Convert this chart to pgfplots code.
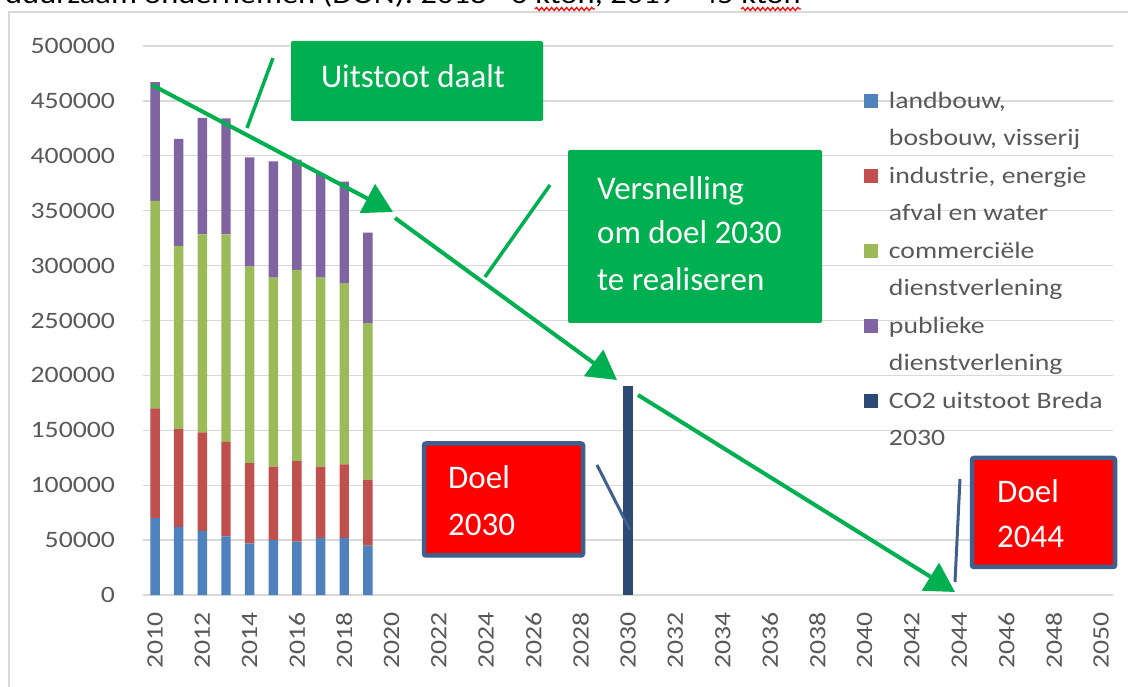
\documentclass[border=0pt]{standalone}
\usepackage{pgfplots}
\pgfplotsset{compat=1.18}
\usepackage{pgfplotstable}
\usetikzlibrary{arrows.meta,decorations.pathmorphing}
\usepackage{fontspec}
\setmainfont{Carlito}
\newfontfamily\chartfont[FakeStretch=1.18]{Carlito}
\newfontfamily\boxfont{Carlito}
\definecolor{cBlue}{HTML}{4F81BD}
\definecolor{cRed}{HTML}{C0504D}
\definecolor{cGreen}{HTML}{9BBB59}
\definecolor{cPurple}{HTML}{8064A2}
\definecolor{cNavy}{HTML}{2C4A74}
\definecolor{gridc}{HTML}{D9D9D9}
\definecolor{txt}{HTML}{595959}
\definecolor{boxgreen}{HTML}{00B050}
\definecolor{boxred}{HTML}{FF0000}
\definecolor{boxborder}{HTML}{3F5F8C}
\pgfplotsset{sqlegend/.style={legend image code/.code={\fill[##1] (0pt,0pt) rectangle (14pt,14pt);}}}
\pgfplotstableread{
year blue red green purple co2
2010 70000 100000 189000 108000 0
2011 62000 89000 167000 97500 0
2012 58500 89500 180500 106000 0
2013 53500 86000 189000 105500 0
2014 47000 73000 179000 99500 0
2015 50000 67000 172000 106000 0
2016 48500 73500 174000 100500 0
2017 52000 65000 172000 94500 0
2018 52000 67000 164500 93000 0
2019 45000 60000 142500 82500 0
2030 0 0 0 0 190000
}\data
\begin{document}
\begin{tikzpicture}
\path[use as bounding box] (0pt,0pt) rectangle (1128pt,686pt);
\clip (0pt,0pt) rectangle (1128pt,686pt);
\fill[white] (0pt,0pt) rectangle (1128pt,686pt);
\begin{axis}[
  at={(143.2pt,91pt)}, anchor=south west,
  scale only axis, width=969.8pt, height=549pt,
  ybar stacked, bar width=0.4,
  xmin=2009.5, xmax=2050.5, ymin=0, ymax=500000,
  xtick={2010,2012,...,2050},
  ytick={0,50000,...,500000},
  scaled y ticks=false,
  ymajorgrids, grid style={gridc, line width=1.3pt},
  axis line style={draw=none},
  tick style={draw=none},
  major tick length=0pt,
  /pgf/number format/assume math mode=true,
  /pgf/number format/1000 sep={},
  tick label style={font=\chartfont\fontsize{23.5}{28}\selectfont, text=txt, inner sep=0pt,
    /pgf/number format/fixed, /pgf/number format/precision=0,
    /pgf/number format/assume math mode=true, /pgf/number format/1000 sep={}},
  xticklabel style={rotate=90, anchor=east},
  xticklabel shift=17pt,
  yticklabel shift=28pt,
  legend cell align=left,
  legend style={draw=none, fill=none, inner sep=0pt, outer sep=0pt,
    at={(rel axis cs:0.7432,0.918)}, anchor=north west,
    row sep=15.5pt,
    font=\chartfont\fontsize{23.5}{35}\selectfont, text=txt,
    nodes={inner sep=0pt, anchor=base west, text height=17pt, text depth=5pt},
    /tikz/every odd column/.style={column sep=11pt}},
]
\addplot[fill=cBlue, draw=none, sqlegend] table[x=year,y=blue]{\data};
\addlegendentry{landbouw,}
\addlegendimage{empty legend}
\addlegendentry{bosbouw, visserij}
\addplot[fill=cRed, draw=none, sqlegend] table[x=year,y=red]{\data};
\addlegendentry{industrie, energie}
\addlegendimage{empty legend}
\addlegendentry{afval en water}
\addplot[fill=cGreen, draw=none, sqlegend] table[x=year,y=green]{\data};
\addlegendentry{commerciële}
\addlegendimage{empty legend}
\addlegendentry{dienstverlening}
\addplot[fill=cPurple, draw=none, sqlegend] table[x=year,y=purple]{\data};
\addlegendentry{publieke}
\addlegendimage{empty legend}
\addlegendentry{dienstverlening}
\addplot[fill=cNavy, draw=none, sqlegend] table[x=year,y=co2]{\data};
\addlegendentry{CO2 uitstoot Breda}
\addlegendimage{empty legend}
\addlegendentry{2030}
\end{axis}
\begin{scope}[shift={(0pt,686pt)}, x=1pt, y=-1pt]
  % chart frame
  \draw[gridc, line width=1.5pt] (9,700) -- (9,12) -- (1140,12);
  % clipped document text above the chart
  \node[anchor=base west, inner sep=0pt, font=\chartfont\fontsize{27.5}{30}\selectfont] (t1) at (5,4) {duurzaam ondernemen (DON): 2018 - 6\ \mbox{}};
  \node[anchor=base west, inner sep=0pt, font=\chartfont\fontsize{27.5}{30}\selectfont] (k1) at (t1.base east) {kton};
  \node[anchor=base west, inner sep=0pt, font=\chartfont\fontsize{27.5}{30}\selectfont] (t2) at (k1.base east) {, 2019 - 45\ \mbox{}};
  \node[anchor=base west, inner sep=0pt, font=\chartfont\fontsize{27.5}{30}\selectfont] (k2) at (t2.base east) {kton};
  \draw[red, line width=1.2pt, decorate, decoration={snake, amplitude=1.6pt, segment length=5pt}] ([yshift=-5pt]k1.base west) -- ([yshift=-5pt]k1.base east);
  \draw[red, line width=1.2pt, decorate, decoration={snake, amplitude=1.6pt, segment length=5pt}] ([yshift=-5pt]k2.base west) -- ([yshift=-5pt]k2.base east);
  % green arrows
  \draw[boxgreen, line width=4pt, -{Triangle[length=29pt,width=32pt]}] (152,85) -- (393,212);
  \draw[boxgreen, line width=4pt, -{Triangle[length=29pt,width=32pt]}] (395,218) -- (617,380);
  \draw[boxgreen, line width=4pt, -{Triangle[length=29pt,width=32pt]}] (638,395) -- (955,592);
  % callout lines
  \draw[boxgreen, line width=3.5pt] (273,58) -- (247,128);
  \draw[boxgreen, line width=3.5pt] (550,185) -- (485,277);
  \draw[boxborder, line width=3pt] (597,465) -- (630,530);
  \draw[boxborder, line width=3pt] (960,479) -- (955,582);
  % green boxes
  \fill[boxgreen, rounded corners=2pt] (291,41) rectangle (543,121);
  \node[anchor=base, inner sep=0pt, text=white, font=\boxfont\fontsize{33}{40}\selectfont] at (413,88) {Uitstoot daalt};
  \fill[boxgreen, rounded corners=2pt] (568,150) rectangle (822,323);
  \node[anchor=base west, inner sep=0pt, text=white, font=\boxfont\fontsize{33}{40}\selectfont] at (597,200) {Versnelling};
  \node[anchor=base west, inner sep=0pt, text=white, font=\boxfont\fontsize{33}{40}\selectfont] at (597,244) {om doel 2030};
  \node[anchor=base west, inner sep=0pt, text=white, font=\boxfont\fontsize{33}{40}\selectfont] at (597,291) {te realiseren};
  % red boxes
  \draw[boxborder, fill=boxred, line width=4.5pt, rounded corners=2pt] (424,443.5) rectangle (583,555.5);
  \node[anchor=base west, inner sep=0pt, text=white, font=\boxfont\fontsize{33}{40}\selectfont] at (448,489) {Doel};
  \node[anchor=base west, inner sep=0pt, text=white, font=\boxfont\fontsize{33}{40}\selectfont] at (448,536) {2030};
  \draw[boxborder, fill=boxred, line width=4.5pt, rounded corners=2pt] (972,458) rectangle (1115,567);
  \node[anchor=base west, inner sep=0pt, text=white, font=\boxfont\fontsize{33}{40}\selectfont] at (997,503) {Doel};
  \node[anchor=base west, inner sep=0pt, text=white, font=\boxfont\fontsize{33}{40}\selectfont] at (997,548) {2044};
\end{scope}
\end{tikzpicture}
\end{document}
